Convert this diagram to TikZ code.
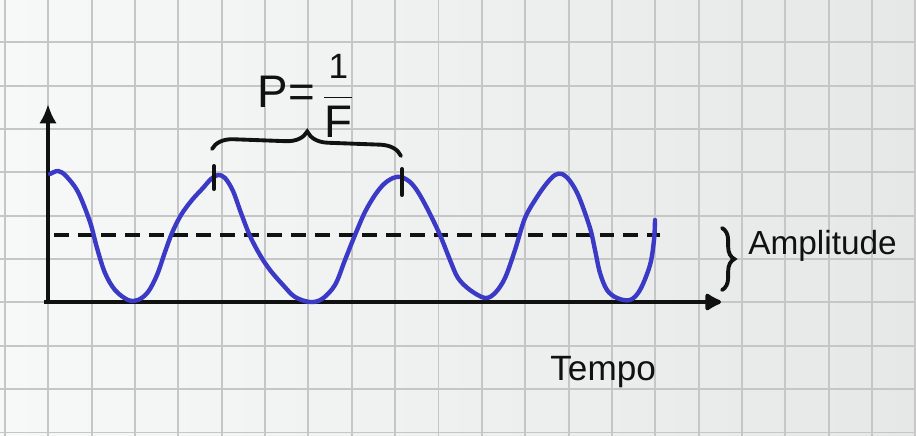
\documentclass[tikz,border=0pt]{standalone}
\usepackage{fontspec}
\setmainfont{Liberation Sans}
\usetikzlibrary{arrows.meta,decorations.pathreplacing}
\definecolor{paperL}{HTML}{F7F8F8}
\definecolor{paperR}{HTML}{E6E8E8}
\definecolor{gridc}{HTML}{C6C6C6}
\definecolor{wavec}{HTML}{3A3AC6}
\definecolor{ink}{HTML}{111111}
\tikzset{
  gridline/.style={draw=gridc, line width=1.1pt},
  axisline/.style={draw=ink, line width=2.6pt},
  wave/.style={draw=wavec, line width=2.5pt, line cap=round, line join=round},
  midline/.style={draw=ink, line width=2.3pt, dash pattern=on 8.5pt off 5pt},
  tickmark/.style={draw=ink, line width=2.3pt, line cap=round},
  bracepath/.style={draw=ink, line width=2.2pt, line cap=round, decorate},
  label/.style={text=ink, inner sep=0pt},
}
\begin{document}
\begin{tikzpicture}[x=0.02cm, y=-0.02cm]
\shade[left color=paperL, right color=paperR] (0,0) rectangle (916,436);
\useasboundingbox (0,0) rectangle (916,436);
% grid
\foreach \i in {0,...,21} \draw[gridline] ({5+43.35*\i},0) -- ({5+43.35*\i},436);
\foreach \j in {0,...,10} \draw[gridline] (0,{-1+43.35*\j}) -- (916,{-1+43.35*\j});
% axes
\coordinate (O) at (48,302);
\coordinate (Ytip) at (48,104);
\coordinate (Xstart) at (44,302);
\coordinate (Xtip) at (721,302);
\draw[axisline, -{Latex[length=11pt, width=10pt]}] (O) -- (Ytip);
\draw[axisline, -{Latex[round, length=11pt, width=12pt]}] (Xstart) -- (Xtip);
% midline
\coordinate (M1) at (54,235);
\coordinate (M2) at (660,235);
\draw[midline] (M1) -- (M2);
% wave
\draw[wave] plot[smooth, tension=0.55] coordinates {
 (50,174) (58,171) (66,176) (78,192) (90,222) (97,248) (105,273) (115,290) (128,300) (138,300)
 (148,292) (157,275) (165,252) (172,233) (181,215) (192,200) (203,188) (211,179) (218,175)
 (225,178) (233,191) (241,213) (250,236) (260,255) (270,270) (283,285) (295,297) (310,302) (322,299)
 (335,285) (345,260) (355,235) (365,212) (375,195) (384,184) (393,178) (401,177) (410,182)
 (418,192) (428,210) (440,235) (450,260) (458,278) (470,290) (485,298) (495,293) (505,278) (515,250)
 (525,218) (537,197) (547,183) (555,175) (562,174) (570,181) (579,197) (590,228) (595,250) (600,273)
 (607,290) (617,298) (630,300) (640,290) (650,265) (654,240) (655,220)};
% ticks
\coordinate (T1a) at (214,166); \coordinate (T1b) at (214,189);
\coordinate (T2a) at (402,169); \coordinate (T2b) at (402,195);
\draw[tickmark] (T1a) -- (T1b);
\draw[tickmark] (T2a) -- (T2b);
% period brace
\coordinate (B1) at (212,149);
\coordinate (B2) at (401,156);
\draw[bracepath, decoration={brace, amplitude=12pt}] (B1) -- (B2);
\node[label, font=\fontsize{26}{28}\selectfont] (period) at (306,96) {P=\,$\displaystyle\frac{\mbox{\fontsize{20}{22}\selectfont 1}}{\mbox{F}}$};
% amplitude brace
\coordinate (A1) at (722,228);
\coordinate (A2) at (722,290);
\draw[bracepath, decoration={brace, amplitude=7pt}] (A1) -- (A2);
\node[label, anchor=base west, font=\fontsize{19}{22}\selectfont] (amp) at (748,254) {Amplitude};
% tempo
\node[label, anchor=base west, font=\fontsize{20}{22}\selectfont] (tempo) at (550,380) {Tempo};
\end{tikzpicture}
\end{document}
